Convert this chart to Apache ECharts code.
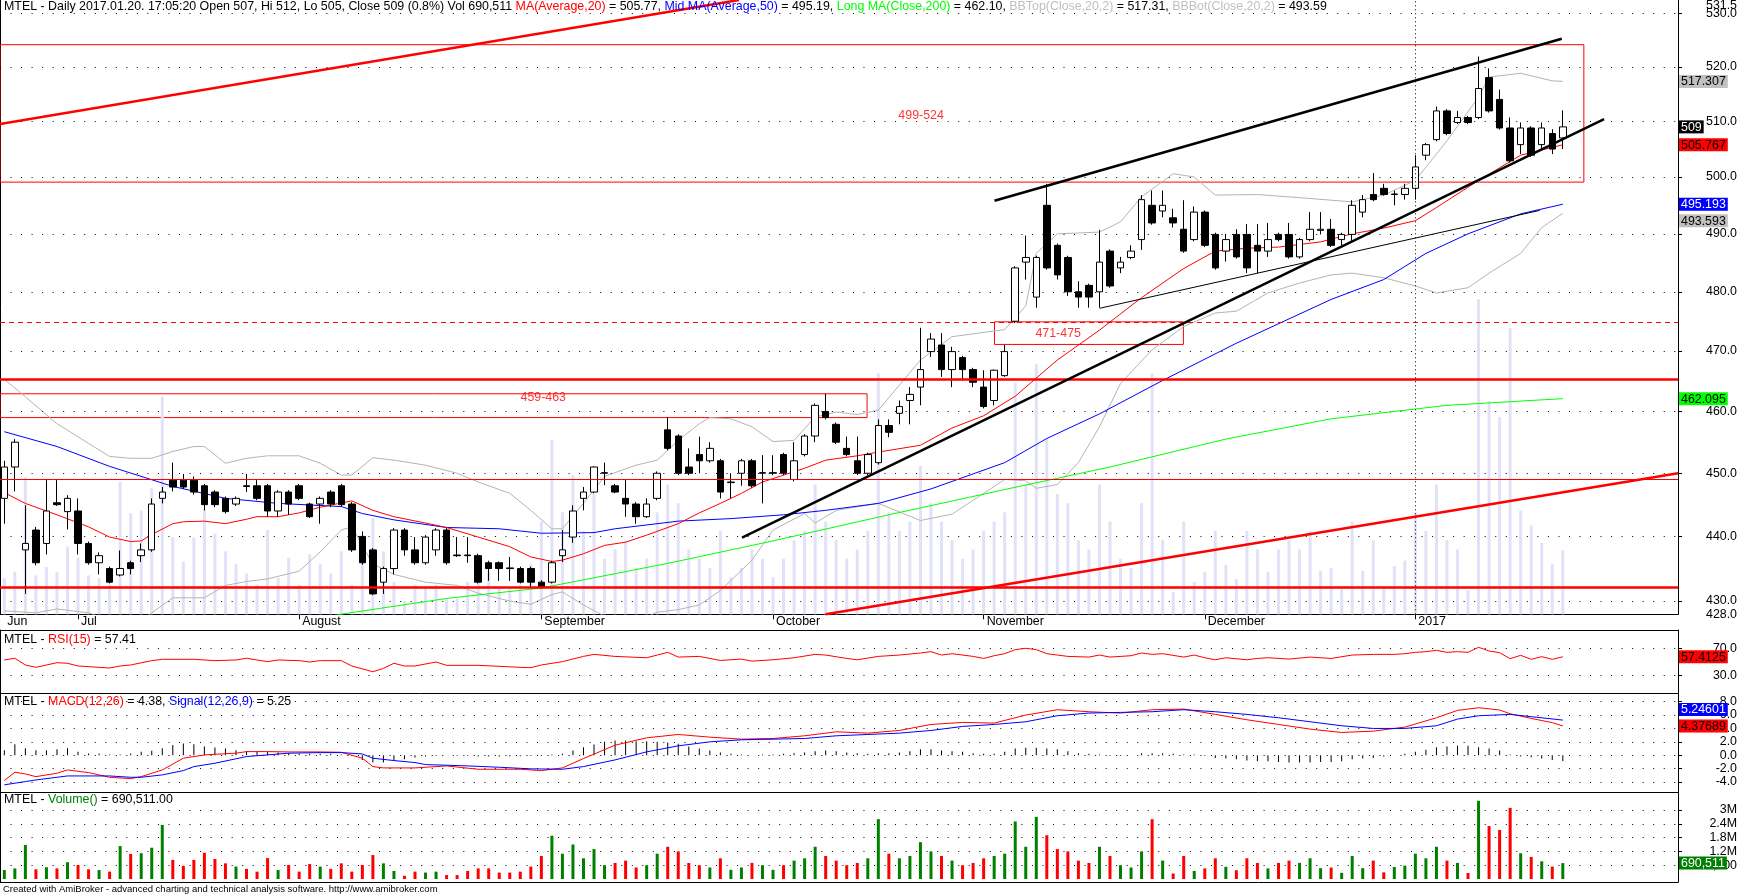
<!DOCTYPE html>
<html><head><meta charset="utf-8">
<script src="https://cdn.jsdelivr.net/npm/echarts@6.0.0/dist/echarts.min.js"></script>
<style>html,body{margin:0;padding:0;background:#fff;overflow:hidden}#c{width:1739px;height:895px}</style>
</head><body><div id="c"></div>
<script>
// ---------------- DATA ----------------
const monthStarts = [0, 7, 28, 51, 73, 93, 114, 134];
const monthLabels = ['Jun', 'Jul', 'August', 'September', 'October', 'November', 'December', '2017'];

const opens = [446.0,451.0,437.9,441.0,438.9,445.3,443.9,444.0,438.9,435.9,435.0,434.0,435.9,437.0,437.9,446.0,448.9,448.9,448.9,448.0,
447.0,446.0,445.1,448.0,448.0,448.0,444.0,447.0,448.0,445.1,445.1,447.0,448.0,445.1,440.0,437.9,432.9,435.0,441.0,437.9,
435.9,437.9,441.0,437.1,437.1,437.0,435.9,435.9,435.1,435.0,435.0,432.9,432.9,437.0,439.9,446.0,447.0,450.0,448.0,446.0,
445.1,443.1,446.0,457.0,456.0,451.0,453.0,452.0,452.0,448.5,450.0,452.0,450.0,450.0,453.0,449.0,453.0,456.0,460.0,457.9,
454.0,452.0,450.0,451.7,457.7,459.7,461.8,464.0,469.9,471.0,466.9,468.9,466.9,464.0,461.8,465.9,475.0,485.1,479.1,495.0,
488.0,485.9,480.0,481.1,480.0,487.0,484.1,485.9,489.0,495.0,494.0,492.8,490.8,489.0,493.8,489.9,487.0,489.9,489.9,488.0,
487.0,489.9,489.9,486.0,489.0,490.6,490.8,489.0,489.9,493.8,496.9,498.0,496.9,496.9,498.0,503.9,506.7,511.9,509.8,510.7,
510.7,518.0,514.0,508.8,505.8,508.8,505.8,507.8,507.0];
const highs = [452.0,455.5,444.9,441.5,448.9,448.9,446.5,446.0,439.2,437.5,435.3,437.8,436.2,438.9,446.0,447.8,451.7,449.9,449.5,448.3,
447.3,446.3,446.3,449.9,448.9,448.3,447.3,447.3,448.3,445.3,446.3,447.3,448.3,445.4,440.8,438.2,435.3,441.3,441.3,439.9,
440.2,441.3,441.3,439.9,439.9,437.3,436.2,436.1,436.8,435.3,435.3,433.2,436.2,441.0,444.9,447.8,451.1,451.7,448.3,448.9,
445.4,446.0,450.3,459.0,456.3,454.0,455.9,455.0,452.3,450.0,452.3,452.3,452.9,452.9,453.3,455.0,456.3,461.3,462.9,458.2,
455.9,455.9,453.3,458.7,458.7,461.8,464.0,473.9,473.0,473.0,470.7,469.2,467.2,466.8,466.9,471.0,484.4,489.7,486.2,498.8,
488.3,486.2,481.8,481.4,490.7,487.3,486.0,488.0,496.8,497.6,497.6,494.4,495.9,494.8,494.1,490.2,490.0,490.8,491.7,491.7,
491.9,490.2,491.9,489.3,493.8,493.8,492.6,490.2,495.9,496.8,500.7,498.8,497.6,498.8,503.9,506.1,512.7,512.2,511.9,511.0,
521.9,519.7,515.8,510.7,509.8,509.1,509.8,508.6,512.0];
const lows = [442.0,447.1,431.1,435.5,437.2,444.8,441.1,437.2,435.6,434.1,432.7,433.8,434.1,436.0,437.6,445.2,447.1,447.5,446.6,444.1,
444.6,443.6,444.8,447.0,445.7,443.1,443.1,443.4,445.7,442.9,442.0,444.6,444.7,437.6,435.6,430.9,431.1,434.1,437.0,435.6,
435.6,437.0,435.6,436.8,435.9,432.7,433.1,433.1,433.1,432.7,432.1,431.9,432.7,436.0,439.0,444.1,446.8,448.1,446.8,443.1,
442.0,442.9,445.7,453.7,449.7,449.7,450.0,451.7,446.0,446.0,448.0,447.7,445.2,449.7,449.7,448.7,452.7,455.0,458.7,454.7,
452.7,449.7,449.7,451.4,455.8,457.9,457.9,461.0,469.0,465.7,464.0,465.1,464.0,460.5,461.0,465.7,474.7,482.1,477.3,483.8,
482.1,479.3,477.3,477.3,477.3,480.7,483.2,485.6,487.2,491.6,492.9,491.1,486.7,488.7,487.7,483.8,485.2,485.7,483.2,483.2,
486.0,488.7,485.7,485.7,488.7,489.9,487.7,488.0,488.7,492.9,495.7,496.7,495.0,496.0,496.0,503.0,506.4,507.5,509.5,509.5,
510.4,511.6,508.5,502.6,504.1,503.6,505.1,504.1,505.0];
const closes = [451.0,455.0,438.9,435.9,444.0,445.0,446.0,438.9,435.9,437.0,432.9,435.0,435.0,437.9,445.1,447.0,447.8,447.8,447.0,445.0,
445.0,443.9,446.0,447.9,446.0,444.0,447.0,445.1,446.0,443.1,446.0,445.1,445.0,437.9,435.9,431.1,435.0,441.0,437.9,435.9,
439.9,441.0,435.9,437.0,437.0,432.9,435.0,435.0,435.0,432.9,432.9,432.1,435.9,437.9,444.0,447.0,451.0,450.1,447.0,445.1,
443.1,445.1,450.0,454.0,450.0,450.0,452.0,454.0,447.0,448.6,452.0,448.0,450.1,450.1,450.0,452.0,456.0,461.0,459.0,455.0,
453.0,450.0,453.0,457.7,456.6,460.8,462.8,466.9,472.0,466.9,469.9,466.9,464.8,460.8,466.8,469.9,484.1,485.9,485.9,484.1,
482.9,480.0,479.1,479.1,485.1,481.0,485.1,487.0,496.0,491.9,495.0,491.9,487.0,493.8,488.0,484.1,489.0,486.0,484.1,487.0,
489.0,489.0,486.0,489.0,490.8,490.8,488.0,489.9,495.0,496.0,496.0,496.9,497.0,498.0,501.8,505.8,511.9,507.8,510.7,509.8,
516.0,511.9,508.8,502.9,508.8,503.9,508.8,505.0,509.0];
// volume in millions of shares
const volM = [0.39,0.46,1.48,0.42,0.51,0.46,0.73,0.61,0.42,0.39,0.32,1.43,1.09,1.12,1.36,2.35,0.83,0.57,0.83,1.14,
0.87,0.68,0.54,0.44,0.32,0.91,0.39,0.61,0.32,0.65,0.54,0.44,0.68,0.32,0.61,1.04,0.68,0.35,0.14,0.32,
0.28,0.32,0.17,0.17,0.35,0.46,0.46,0.28,0.28,0.32,0.54,1.0,1.88,1.1,1.5,0.9,1.3,0.6,0.7,0.8,
0.5,0.6,1.1,1.4,1.2,0.7,0.6,0.5,0.9,0.4,0.5,0.7,0.6,0.4,0.6,0.8,0.9,1.4,1.0,0.8,
0.6,0.7,0.9,2.6,1.1,0.9,1.0,1.6,1.2,1.0,0.8,0.6,0.7,0.9,1.0,1.1,2.5,1.4,2.7,1.9,
1.3,1.2,0.8,0.7,1.4,1.0,0.6,0.5,1.2,2.6,0.8,0.24,1.0,0.35,0.46,0.9,0.53,0.38,0.9,0.7,
0.46,0.7,0.8,0.7,0.9,0.47,0.5,0.27,1.0,0.47,0.8,0.29,0.52,0.58,1.1,0.9,1.4,0.8,0.7,0.26,
3.4,2.3,2.13,3.09,1.12,0.96,0.77,0.54,0.690511];

// indicator lines read at sample bars: [bar, value]
const ma20 = [[0,446.9],[2,445.2],[5,443.4],[8,441.5],[10,439.9],[12,439.2],[13,439.3],[14,440.3],[16,442.0],[17,442.3],[19,442.4],[21,442.0],[23,442.7],[24,443.1],[26,443.1],[28,443.7],[30,444.6],[33,445.6],[35,444.1],[37,443.1],[40,442.1],[42,441.4],[45,439.9],[48,438.4],[50,436.8],[52,436.1],[53,436.3],[55,437.3],[57,438.6],[59,439.1],[61,440.2],[64,442.0],[66,443.7],[68,445.2],[70,446.8],[72,448.6],[74,449.7],[76,450.8],[78,452.1],[81,452.8],[83,453.4],[87,454.5],[90,457.3],[93,459.3],[96,462.5],[100,468.5],[104,473.5],[108,479.0],[112,484.0],[115,487.0],[118,487.5],[121,487.7],[125,488.6],[128,490.0],[131,491.0],[134,492.3],[136,494.6],[140,499.4],[144,503.9],[148,505.77]];
const ma50 = [[0,456.7],[5,454.3],[10,451.1],[16,447.9],[21,446.0],[26,445.2],[32,444.7],[34,443.6],[37,442.6],[42,441.4],[47,441.2],[51,440.5],[56,440.6],[58,441.2],[64,442.4],[69,442.8],[74,443.4],[78,444.1],[83,445.2],[88,447.5],[95,451.7],[99,455.6],[104,459.6],[110,465.1],[117,471.3],[126,478.7],[131,482.1],[135,486.6],[139,490.0],[144,493.5],[148,495.19]];
const ma200 = [[20,424.6],[32,428.0],[42,430.4],[51,432.0],[63,435.8],[73,439.3],[84,443.4],[95,447.4],[105,451.0],[116,455.5],[126,458.8],[137,461.0],[148,462.1]];
const bbTop = [[0,465.3],[2,462.4],[5,458.0],[8,454.8],[10,452.7],[12,452.4],[14,452.4],[16,453.5],[18,454.3],[19,454.3],[21,451.6],[23,452.4],[25,452.8],[28,452.8],[30,451.6],[32,449.7],[33,449.7],[35,452.5],[37,452.1],[40,451.3],[43,450.0],[45,448.6],[48,446.8],[50,444.1],[52,441.2],[53,441.2],[55,445.2],[57,449.5],[60,451.3],[62,452.1],[64,455.3],[66,458.0],[67,459.0],[69,458.8],[71,457.5],[73,455.1],[75,455.3],[77,459.1],[79,459.9],[81,459.5],[83,460.2],[87,468.5],[90,472.4],[95,473.6],[97,477.6],[98,486.6],[100,490.0],[104,490.3],[106,492.1],[108,496.5],[111,500.6],[113,500.0],[115,496.8],[119,496.9],[124,496.2],[128,495.6],[131,496.8],[134,499.4],[137,506.5],[140,514.4],[141,518.1],[144,518.8],[147,517.4],[148,517.31]];
const bbBot = [[0,428.5],[3,428.2],[5,428.8],[8,428.2],[10,427.1],[12,426.0],[14,428.2],[16,430.5],[19,430.5],[21,432.4],[23,433.0],[25,433.4],[28,434.6],[30,437.6],[32,441.0],[33,441.5],[35,435.7],[37,434.1],[40,432.9],[43,432.4],[45,431.2],[48,430.0],[50,429.5],[52,431.0],[53,431.4],[55,429.4],[57,427.7],[60,426.9],[62,428.3],[64,428.7],[66,429.4],[68,431.6],[71,436.3],[73,441.0],[76,443.6],[77,442.1],[79,444.1],[83,445.2],[87,442.5],[90,443.5],[95,449.0],[97,448.8],[98,447.6],[100,448.2],[102,451.7],[104,457.5],[106,464.6],[109,470.2],[112,474.1],[115,476.4],[117,476.7],[120,479.8],[123,481.5],[126,482.9],[128,483.2],[131,482.4],[134,481.0],[136,479.8],[139,480.7],[141,483.2],[144,486.6],[146,491.1],[148,493.59]];
const rsi = [[0,52.7],[1,55.2],[2,45.3],[3,41.8],[5,48.7],[6,47.8],[7,43.8],[10,40.8],[11,43.8],[12,45.3],[14,51.7],[15,53.7],[18,53.7],[20,51.7],[22,52.7],[23,55.2],[24,52.7],[25,50.2],[26,52.7],[28,51.7],[29,49.7],[30,51.7],[32,51.7],[33,43.8],[35,35.3],[36,40.3],[37,47.8],[38,43.8],[39,43.8],[41,49.7],[42,44.8],[45,44.8],[49,41.8],[50,41.3],[51,45.3],[53,50.2],[55,58],[56,61],[58,58],[61,56],[62,60],[63,64],[64,57],[66,58],[68,52],[70,54],[71,51],[73,53],[75,56],[77,61],[78,60],[80,55],[81,53],[83,58],[85,60],[87,63],[88,65],[89,60],[90,62],[92,58],[93,55],[94,59],[95,62],[96,68],[97,70],[98,68],[99,62],[100,60],[101,58],[103,57],[104,60],[105,57],[107,59],[108,63],[109,61],[110,62],[112,57],[113,60],[114,56],[115,53],[116,56],[118,53],[119,55],[120,56],[122,54],[124,57],[126,55],[128,60],[130,61],[132,61],[133,62],[134,64],[135,65],[136,67],[137,64],[138,65],[139,64],[140,71.5],[141,66],[142,63.5],[143,54.6],[144,59.6],[145,53.7],[146,57.6],[147,53.7],[148,57.41]];
const macd = [[0,-3.8],[1,-2.54],[2,-2.8],[3,-3.2],[5,-2.7],[6,-2.2],[8,-2.6],[10,-3.3],[12,-3.5],[13,-3.2],[15,-2.2],[17,-0.45],[19,0.04],[20,0.14],[22,0.3],[23,0.54],[25,0.54],[27,0.49],[30,0.49],[32,0.44],[34,-0.45],[35,-1.7],[36,-1.9],[39,-1.9],[42,-1.6],[45,-2.1],[49,-2.1],[51,-2.3],[53,-1.9],[55,-0.5],[58,1.5],[61,2.6],[64,3.1],[67,2.7],[70,2.4],[73,2.5],[76,2.9],[79,3.5],[82,3.3],[85,3.7],[88,4.6],[91,4.9],[94,4.8],[97,6.0],[100,6.8],[103,6.5],[106,6.3],[109,6.8],[112,6.9],[115,6.1],[118,5.3],[121,4.6],[124,3.9],[127,3.4],[130,3.6],[133,4.2],[136,5.6],[138,6.7],[140,7.1],[142,6.76],[143,6.2],[145,5.5],[147,4.87],[148,4.38]];
const signal = [[0,-4.43],[2,-3.94],[3,-3.7],[6,-3.1],[10,-3.1],[12,-3.3],[13,-3.3],[15,-2.94],[17,-2.3],[18,-1.7],[20,-1.2],[23,-0.2],[27,0.3],[30,0.39],[32,0.39],[34,0.19],[35,-0.45],[37,-0.8],[39,-1.1],[40,-1.4],[44,-1.6],[47,-1.8],[50,-2.04],[53,-2.1],[55,-1.7],[58,-0.7],[61,0.5],[64,1.4],[67,2.0],[70,2.3],[73,2.4],[76,2.5],[79,2.9],[82,3.1],[85,3.3],[88,3.7],[91,4.3],[94,4.6],[97,5.0],[100,5.9],[103,6.3],[106,6.4],[109,6.5],[112,6.8],[115,6.5],[118,6.1],[121,5.6],[124,5.0],[127,4.4],[130,4.0],[133,4.0],[136,4.4],[138,5.4],[140,5.9],[143,6.1],[145,5.76],[148,5.25]];
const macdHist = [0.75,1.64,1.04,0.75,0.75,0.9,1.04,0.5,0.25,0.25,0.1,0.1,0.25,0.5,0.65,1.04,1.54,1.74,1.64,1.3,
1.14,1.0,0.75,0.6,0.6,0.5,0.4,0.3,0.2,0.2,0.2,0.2,0.1,-0.1,-0.7,-1.1,-1.1,-0.85,-0.6,-0.35,
-0.2,-0.1,0,-0.1,-0.1,-0.2,-0.2,-0.2,-0.2,-0.15,-0.1,-0.1,0.1,0.2,0.7,1.2,1.6,2.0,2.2,2.2,
2.1,2.1,2.0,1.9,1.7,1.3,1.0,0.7,0.4,0.2,0.1,0.0,0.1,0.1,0.2,0.3,0.4,0.6,0.7,0.6,
0.4,0.3,0.2,0.3,0.3,0.4,0.6,0.9,0.9,0.7,0.6,0.5,0.3,0.2,0.2,0.5,1.0,1.1,1.1,1.0,
0.9,0.6,0.3,0.2,0.1,-0.1,-0.1,0.0,0.3,0.3,0.3,0.2,0.1,0.1,-0.1,-0.4,-0.5,-0.6,-0.8,-0.9,
-0.9,-1.0,-1.1,-1.1,-1.1,-1.0,-1.0,-0.9,-0.6,-0.5,-0.4,-0.2,0.0,0.2,0.5,0.8,1.2,1.3,1.4,1.4,
1.2,1.0,0.7,0.1,-0.2,-0.3,-0.5,-0.7,-0.87];

// axis tick / label values
const priceTicks = [430,440,450,460,470,480,490,500,510,520,530];
const priceLabels = [428,430,440,450,460,470,480,490,500,510,520,530];
const priceEdgeLabels = [531.5];
const rsiTicks = [30,70];
const macdTicks = [-4,-2,0,2,4,6,8];
const volTicks = [0.6,1.2,1.8,2.4,3.0];
const volTickText = ['600,000','1.2M','1.8M','2.4M','3M'];

// last-value tags on the right axis (draw order)
const mainTagValues = [509, 505.767, 495.193, 462.095, 517.307, 493.593];
const mainTagText = ['509','505.767','495.193','462.095','517.307','493.593'];
const rsiTagValues = [57.4125];  const rsiTagText = ['57.4125'];
const macdTagValues = [4.37689, 5.24601]; const macdTagText = ['4.37689','5.24601'];
const volTagValues = [0.690511]; const volTagText = ['690,511'];

// hand-drawn studies: [bar1, price1, bar2, price2]
const redTrend = [[-0.41, 509.5, 69.77, 532.5], [77.99, 428.0, 158.94, 450.0]];
const blackTrend = [[94.03, 495.8, 147.9, 525.2], [70.06, 439.8, 151.92, 510.4]];
const thinTrend = [[104.02, 477.2, 145.8, 494.1]];
const thickLevels = [465.3, 432.1];
const thinLevels = [449.0];
const dashedLevels = [474.9];
const boxes = [[-0.41, 524.1, 150.0, 499.1], [-0.41, 462.9, 81.93, 459.0], [94.03, 474.9, 111.97, 471.1]];
const boxLabels = [['499-524', 87.06, 511.0], ['459-463', 51.18, 462.3], ['471-475', 100.08, 473.0]];

// ---------------- CHART ----------------
const FONT = '"Liberation Sans", Arial, Helvetica, sans-serif';
const FS = 12.4;
const XMIN = -0.41, XMAX = 158.94;
const TAG_GAP = 16.5;
const chart = echarts.init(document.getElementById('c'), null, {renderer: 'canvas'});

const tagPos = {
  tagMain: mainTagValues.slice(), tagRsi: rsiTagValues.slice(),
  tagMacd: macdTagValues.slice(), tagVol: volTagValues.slice()
};
function nearestIdx(arr, v) {
  let b = 0, d = Infinity;
  arr.forEach((a, k) => { const dd = Math.abs(a - v); if (dd < d) { d = dd; b = k; } });
  return b;
}
function richTitle(parts) { return parts.map(p => '{' + p[0] + '|' + p[1] + '}').join(''); }
const richColors = {k: '#000000', r: '#ff0000', b: '#0000ff', g: '#00ff00', s: '#c0c0c0', v: '#008000'};
function richSet(fs) {
  const o = {};
  Object.keys(richColors).forEach(k => { o[k] = {color: richColors[k], fontSize: fs, fontFamily: FONT, fontWeight: 'normal'}; });
  return o;
}
function title(parts, left, top, fs) {
  return {left, top, padding: 0, itemGap: 0, z: 20, text: richTitle(parts),
    textStyle: {fontSize: fs, fontFamily: FONT, fontWeight: 'normal', color: '#000', rich: richSet(fs)}};
}

const dotted = {show: true, lineStyle: {color: '#000', width: 1, type: [1, 9.53]}};
function xAx(grid, pos, line, extra) {
  return Object.assign({type: 'value', gridIndex: grid, position: pos, min: XMIN, max: XMAX,
    axisLine: {show: line, onZero: false, lineStyle: {color: '#000', width: 1}},
    axisTick: {show: false}, axisLabel: {show: false}, splitLine: {show: false}, axisPointer: {show: false}}, extra || {});
}
function valAxis(grid, base, ticks, labels, fmt) {
  return Object.assign({gridIndex: grid, position: 'right', z: 3,
    axisLine: {show: true, onZero: false, lineStyle: {color: '#000', width: 1}},
    axisTick: {show: true, length: 4, customValues: ticks, lineStyle: {color: '#000'}},
    axisLabel: {show: true, customValues: labels, formatter: fmt, color: '#000', fontSize: FS, fontFamily: FONT,
      align: 'right', margin: 59, hideOverlap: false, showMinLabel: true, showMaxLabel: true},
    splitLine: dotted}, base);
}
function labelOnlyAxis(grid, base, labels, fmt) {
  return Object.assign({gridIndex: grid, position: 'right', z: 2,
    axisLine: {show: false, onZero: false}, axisTick: {show: false}, splitLine: {show: false},
    axisLabel: {show: true, customValues: labels, formatter: fmt, color: '#000', fontSize: FS, fontFamily: FONT,
      align: 'right', margin: 59, hideOverlap: false}}, base);
}
function tagAxis(id, grid, base, texts, styles) {
  const rich = {};
  styles.forEach((s, k) => {
    rich['t' + k] = {backgroundColor: s[0], color: s[1], padding: [1, 2, 0, 2], fontSize: FS, fontFamily: FONT, lineHeight: 13};
  });
  return Object.assign({id, gridIndex: grid, position: 'right', z: 10,
    axisLine: {show: false, onZero: false}, axisTick: {show: false}, splitLine: {show: false},
    axisLabel: {show: true, customValues: tagPos[id].slice(), margin: 1, align: 'left', hideOverlap: false,
      formatter: v => { const k = nearestIdx(tagPos[id], v); return '{t' + k + '|' + texts[k] + '}'; }, rich}}, base);
}
function leftBorder(grid) {
  return {type: 'value', gridIndex: grid, position: 'left', min: 0, max: 1,
    axisLine: {show: true, onZero: false, lineStyle: {color: '#000'}}, axisTick: {show: false}, axisLabel: {show: false}, splitLine: {show: false}};
}

const priceBase = {type: 'log', logBase: 10, min: 427.98, max: 532.5};
const rsiBase = {type: 'value', min: 3.8, max: 97.1};
const macdBase = {type: 'value', min: -5.5, max: 9.3};
const volBase = {type: 'value', min: -0.13, max: 3.78};

const candleData = opens.map((o, i) => [i, o, closes[i], lows[i], highs[i]]);
const volBars = volM.map((v, i) => ({value: [i, v], itemStyle: {color: closes[i] >= opens[i] ? '#008000' : '#ff0000'}}));

const seg = (a, style) => [{coord: [a[0], a[1]], lineStyle: style}, {coord: [a[2], a[3]]}];
const markLines = [].concat(
  thickLevels.map(v => ({yAxis: v, lineStyle: {color: '#ff0000', width: 2.5, type: 'solid'}})),
  thinLevels.map(v => ({yAxis: v, lineStyle: {color: '#ff0000', width: 1, type: 'solid'}})),
  dashedLevels.map(v => ({yAxis: v, lineStyle: {color: '#ff0000', width: 1, type: [5, 4]}})),
  [{xAxis: monthStarts[7], lineStyle: {color: '#000', width: 1, type: [1, 3]}}],
  redTrend.map(a => seg(a, {color: '#ff0000', width: 2.5, type: 'solid'})),
  blackTrend.map(a => seg(a, {color: '#000000', width: 2.5, type: 'solid'})),
  thinTrend.map(a => seg(a, {color: '#000000', width: 1, type: 'solid'}))
);
const markAreas = boxes.map(b => [{coord: [b[0], b[1]]}, {coord: [b[2], b[3]]}]);

const line = (x, y, data, color, z) => ({type: 'line', xAxisIndex: x, yAxisIndex: y, data, symbol: 'none', silent: true, z: z || 3,
  lineStyle: {color, width: 1}, emphasis: {disabled: true}});

const option = {
  animation: false,
  backgroundColor: '#ffffff',
  textStyle: {fontFamily: FONT},
  title: [
    title([['k', 'MTEL - Daily 2017.01.20. 17:05:20 Open 507, Hi 512, Lo 505, Close 509 (0.8%) Vol 690,511 '], ['r', 'MA(Average,20)'], ['k', ' = 505.77, '],
      ['b', 'Mid MA(Average,50)'], ['k', ' = 495.19, '], ['g', 'Long MA(Close,200)'], ['k', ' = 462.10, '],
      ['s', 'BBTop(Close,20,2)'], ['k', ' = 517.31, '], ['s', 'BBBot(Close,20,2)'], ['k', ' = 493.59']], 4, 1, FS),
    title([['k', 'MTEL - '], ['r', 'RSI(15)'], ['k', ' = 57.41']], 4, 634, FS),
    title([['k', 'MTEL - '], ['r', 'MACD(12,26)'], ['k', ' = 4.38, '], ['b', 'Signal(12,26,9)'], ['k', ' = 5.25']], 4, 696, FS),
    title([['k', 'MTEL - '], ['v', 'Volume()'], ['k', ' = 690,511.00']], 4, 794, FS),
    title([['k', 'Created with AmiBroker - advanced charting and technical analysis software. http://www.amibroker.com']], 3, 884, 9.5)
  ],
  grid: [
    {left: 0, top: 0, width: 1678, height: 614.3, containLabel: false, outerBoundsMode: 'none'},
    {left: 0, top: 630, width: 1678, height: 63, containLabel: false, outerBoundsMode: 'none'},
    {left: 0, top: 693, width: 1678, height: 99, containLabel: false, outerBoundsMode: 'none'},
    {left: 0, top: 792, width: 1678, height: 90, containLabel: false, outerBoundsMode: 'none'}
  ],
  xAxis: [
    xAx(0, 'bottom', true, {
      axisTick: {show: true, customValues: monthStarts.slice(1), length: 5, lineStyle: {color: '#000'}},
      axisLabel: {show: true, customValues: monthStarts, formatter: v => monthLabels[nearestIdx(monthStarts, v)],
        align: 'left', margin: 1, padding: [0, 0, 0, 3], color: '#000', fontSize: FS, fontFamily: FONT, hideOverlap: false}
    }),
    xAx(1, 'top', true), xAx(2, 'top', true), xAx(3, 'top', true), xAx(3, 'bottom', true)
  ],
  yAxis: [
    valAxis(0, priceBase, priceTicks, priceLabels, v => v.toFixed(1)),
    {type: 'value', gridIndex: 0, min: 0, max: 6.63, show: false, position: 'left'},
    tagAxis('tagMain', 0, priceBase, mainTagText,
      [['#000000', '#ffffff'], ['#ff0000', '#000000'], ['#0000ff', '#ffffff'], ['#00ff00', '#000000'], ['#c0c0c0', '#000000'], ['#c0c0c0', '#000000']]),
    leftBorder(0),
    valAxis(1, rsiBase, rsiTicks, rsiTicks, v => v.toFixed(1)),
    tagAxis('tagRsi', 1, rsiBase, rsiTagText, [['#ff0000', '#000000']]),
    leftBorder(1),
    valAxis(2, macdBase, macdTicks, macdTicks, v => v.toFixed(1)),
    tagAxis('tagMacd', 2, macdBase, macdTagText, [['#ff0000', '#000000'], ['#0000ff', '#ffffff']]),
    leftBorder(2),
    valAxis(3, volBase, volTicks, volTicks, v => volTickText[nearestIdx(volTicks, v)]),
    tagAxis('tagVol', 3, volBase, volTagText, [['#008000', '#ffffff']]),
    leftBorder(3),
    labelOnlyAxis(0, priceBase, priceEdgeLabels, v => v.toFixed(1))
  ],
  series: [
    {type: 'bar', xAxisIndex: 0, yAxisIndex: 1, data: volM.map((v, i) => [i, v]), barWidth: 3, silent: true, z: 1,
      itemStyle: {color: '#e1e1f7'}, emphasis: {disabled: true}},
    line(0, 0, bbTop, '#b4b4b4', 2),
    line(0, 0, bbBot, '#b4b4b4', 2),
    line(0, 0, ma200, '#00ff00', 3),
    line(0, 0, ma50, '#0000ff', 3),
    line(0, 0, ma20, '#ff0000', 3),
    {type: 'candlestick', xAxisIndex: 0, yAxisIndex: 0, data: candleData, encode: {x: 0, y: [1, 2, 3, 4]},
      barWidth: 7, silent: true, z: 4, emphasis: {disabled: true},
      itemStyle: {color: '#ffffff', color0: '#000000', borderColor: '#000000', borderColor0: '#000000', borderWidth: 1},
      markLine: {silent: true, symbol: ['none', 'none'], label: {show: false}, emphasis: {disabled: true}, data: markLines, z: 5},
      markArea: {silent: true, label: {show: false}, emphasis: {disabled: true},
        itemStyle: {color: 'rgba(0,0,0,0)', borderColor: '#ff0000', borderWidth: 1}, data: markAreas}
    },
    {type: 'scatter', xAxisIndex: 0, yAxisIndex: 0, symbolSize: 0.1, silent: true, z: 6,
      itemStyle: {color: 'rgba(0,0,0,0)'},
      data: boxLabels.map(b => ({value: [b[1], b[2]], name: b[0]})),
      label: {show: true, position: 'inside', formatter: '{b}', color: '#ff0000', fontSize: FS, fontFamily: FONT}},
    line(1, 4, rsi, '#ff0000', 3),
    {type: 'bar', xAxisIndex: 2, yAxisIndex: 7, data: macdHist.map((v, i) => [i, v]), barWidth: 1, silent: true, z: 2,
      itemStyle: {color: '#000000'}, emphasis: {disabled: true}},
    line(2, 7, macd, '#ff0000', 3),
    line(2, 7, signal, '#0000ff', 3),
    {type: 'bar', xAxisIndex: 3, yAxisIndex: 10, data: volBars, barWidth: 3, silent: true, z: 2, emphasis: {disabled: true}}
  ]
};
chart.setOption(option);

// push overlapping last-value tags apart, the way the reference does
function resolveTags(id, axisIndex, values) {
  const placed = [];
  const out = values.map(v => {
    let y = chart.convertToPixel({yAxisIndex: axisIndex}, v);
    for (let pass = 0; pass < 3; pass++) {
      placed.forEach(p => { if (Math.abs(y - p.y) < TAG_GAP) y = v > p.v ? p.y - TAG_GAP : p.y + TAG_GAP; });
    }
    placed.push({y, v});
    return chart.convertFromPixel({yAxisIndex: axisIndex}, y);
  });
  tagPos[id] = out;
  return out;
}
try {
  const upd = [
    {id: 'tagMain', axisLabel: {customValues: resolveTags('tagMain', 2, mainTagValues)}},
    {id: 'tagRsi', axisLabel: {customValues: resolveTags('tagRsi', 5, rsiTagValues)}},
    {id: 'tagMacd', axisLabel: {customValues: resolveTags('tagMacd', 8, macdTagValues)}},
    {id: 'tagVol', axisLabel: {customValues: resolveTags('tagVol', 11, volTagValues)}}
  ];
  chart.setOption({yAxis: upd});
} catch (e) { console.log(e); }
</script></body></html>
